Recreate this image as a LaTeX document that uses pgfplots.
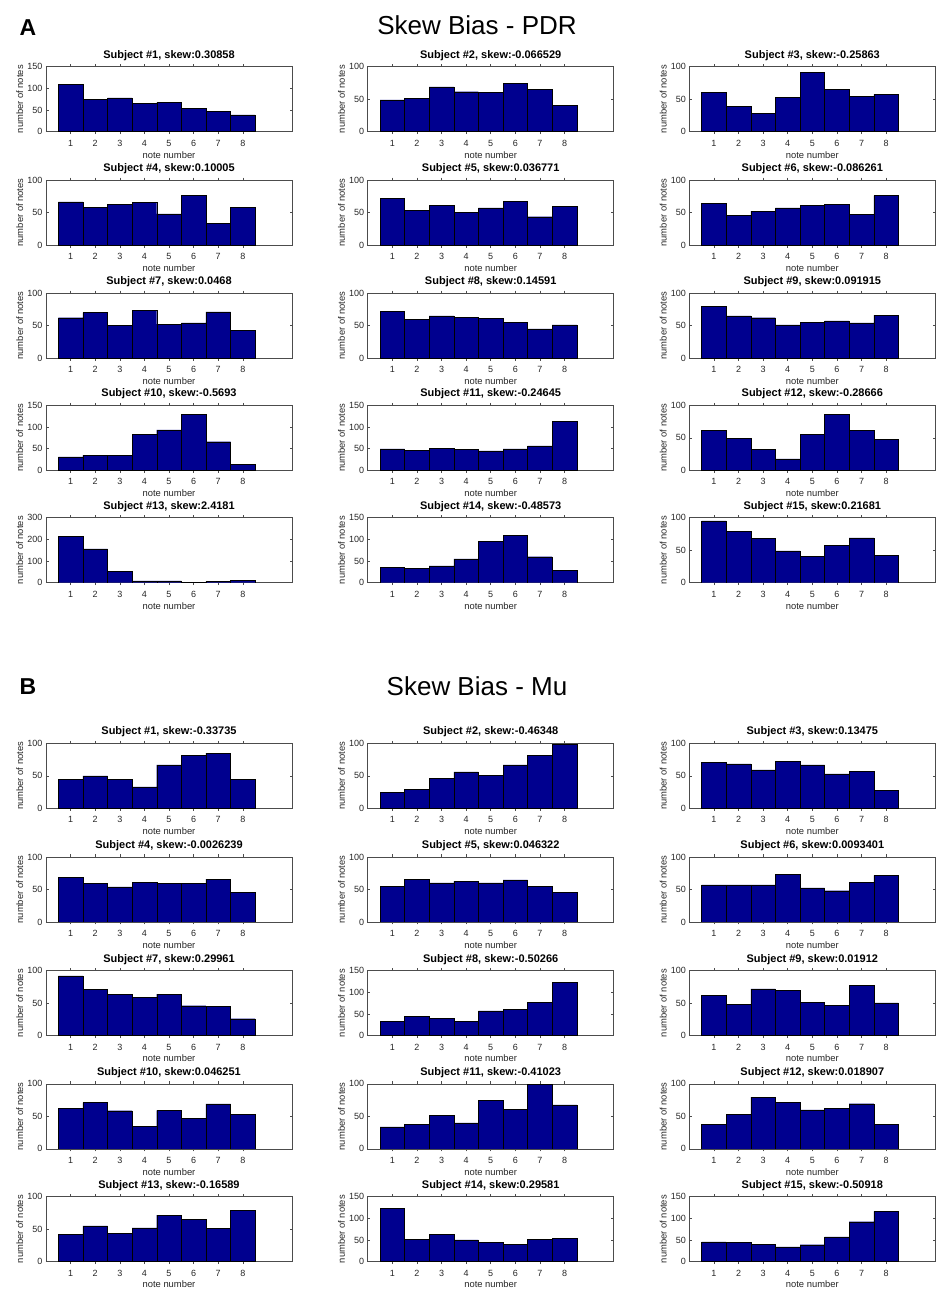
\documentclass[border=0pt]{standalone}
\usepackage{pgfplots}
\pgfplotsset{compat=1.18}
\usepackage{fontspec}
\setmainfont{Liberation Sans}
\definecolor{barblue}{RGB}{0,0,143}
\pgfplotsset{
  every axis title/.style={at={(axis description cs:0.5,1.13)}, anchor=base, font=\fontsize{11}{12}\selectfont\bfseries},
  panel/.style={
    scale only axis, width=246pt, height=65pt, anchor=north west,
    xmin=0, xmax=10, ymin=0,
    xtick={1,2,3,4,5,6,7,8},
    tick align=inside, major tick length=2.5pt,
    axis line style={draw=black!70, line width=0.5pt},
    every tick/.style={draw=black!70, line width=0.5pt},
    tick label style={font=\fontsize{9}{10}\selectfont, text=black!85},
    /pgf/number format/assume math mode=true,
    xticklabel style={anchor=base, yshift=-12pt},
    xlabel={note number},
    xlabel style={at={(axis description cs:0.5,-0.405)}, anchor=base, font=\fontsize{9.4}{10}\selectfont, text=black!85},
    ylabel={number of notes},
    ylabel style={at={(axis description cs:-0.0925,0.5)}, anchor=base, font=\fontsize{9.4}{10}\selectfont, text=black!85},
    ybar, bar width=1,
  }
}
\newcommand{\panel}[6]{%
  \begin{axis}[panel, at={(#1pt,-#2pt)}, ymax=#3, ytick={#4}, title={#5}]
    \addplot[fill=barblue, draw=black, line width=0.4pt] coordinates {#6};
  \end{axis}}
\begin{document}
\begin{tikzpicture}
\useasboundingbox (0,0) rectangle (950pt,-1300pt);
% ---------- A ----------
\node[anchor=base west, font=\fontsize{23}{24}\selectfont\bfseries] at (16pt,-36pt) {A};
\node[anchor=base, font=\fontsize{26}{28}\selectfont] at (477pt,-34.5pt) {Skew Bias - PDR};
\panel{46}{66.7}{150}{0,50,100,150}{Subject \#1, skew:0.30858}{(1,110) (2,74) (3,78) (4,65) (5,67) (6,54) (7,47) (8,39)}
\panel{367.7}{66.7}{100}{0,50,100}{Subject \#2, skew:-0.066529}{(1,49) (2,51) (3,69) (4,61.5) (5,60.5) (6,74) (7,65) (8,40.5)}
\panel{689.3}{66.7}{100}{0,50,100}{Subject \#3, skew:-0.25863}{(1,60) (2,39.5) (3,28.7) (4,53) (5,91) (6,65) (7,54) (8,57.5)}
\panel{46}{180}{100}{0,50,100}{Subject \#4, skew:0.10005}{(1,66.5) (2,58) (3,63) (4,66) (5,48) (6,76) (7,33.5) (8,58)}
\panel{367.7}{180}{100}{0,50,100}{Subject \#5, skew:0.036771}{(1,72) (2,53) (3,60.5) (4,50) (5,57) (6,67) (7,43.5) (8,59.5)}
\panel{689.3}{180}{100}{0,50,100}{Subject \#6, skew:-0.086261}{(1,64) (2,45.6) (3,52) (4,57) (5,60.5) (6,63) (7,47) (8,76)}
\panel{46}{293}{100}{0,50,100}{Subject \#7, skew:0.0468}{(1,62) (2,70) (3,50) (4,73) (5,52) (6,54) (7,71) (8,42.5)}
\panel{367.7}{293}{100}{0,50,100}{Subject \#8, skew:0.14591}{(1,72) (2,60) (3,65) (4,63) (5,61.5) (6,55) (7,45) (8,51)}
\panel{689.3}{293}{100}{0,50,100}{Subject \#9, skew:0.091915}{(1,79) (2,65) (3,62) (4,51) (5,55) (6,57) (7,54) (8,66)}
\panel{46}{405.3}{150}{0,50,100,150}{Subject \#10, skew:-0.5693}{(1,31) (2,35) (3,35) (4,83) (5,93.5) (6,129) (7,66) (8,13)}
\panel{367.7}{405.3}{150}{0,50,100,150}{Subject \#11, skew:-0.24645}{(1,49.5) (2,45.6) (3,50) (4,48) (5,45) (6,49.5) (7,56.5) (8,113.7)}
\panel{689.3}{405.3}{100}{0,50,100}{Subject \#12, skew:-0.28666}{(1,61) (2,49.5) (3,32.5) (4,17.5) (5,55.7) (6,86) (7,61) (8,47.5)}
\panel{46}{517.7}{300}{0,100,200,300}{Subject \#13, skew:2.4181}{(1,215) (2,156) (3,54) (4,8) (5,8) (6,3) (7,6) (8,12)}
\panel{367.7}{517.7}{150}{0,50,100,150}{Subject \#14, skew:-0.48573}{(1,35) (2,32.5) (3,38.7) (4,55) (5,96) (6,110) (7,60) (8,28)}
\panel{689.3}{517.7}{100}{0,50,100}{Subject \#15, skew:0.21681}{(1,95) (2,79) (3,68) (4,49) (5,41) (6,58) (7,69) (8,42)}
% ---------- B ----------
\node[anchor=base west, font=\fontsize{23}{24}\selectfont\bfseries] at (16pt,-694.5pt) {B};
\node[anchor=base, font=\fontsize{26}{28}\selectfont] at (477pt,-695pt) {Skew Bias - Mu};
\panel{46}{743.3}{100}{0,50,100}{Subject \#1, skew:-0.33735}{(1,44.7) (2,50) (3,45) (4,33) (5,67) (6,82) (7,85) (8,45)}
\panel{367.7}{743.3}{100}{0,50,100}{Subject \#2, skew:-0.46348}{(1,24.5) (2,29) (3,46) (4,56) (5,51) (6,66.7) (7,81) (8,98)}
\panel{689.3}{743.3}{100}{0,50,100}{Subject \#3, skew:0.13475}{(1,71) (2,68.5) (3,59) (4,72) (5,67) (6,53) (7,57) (8,27.7)}
\panel{46}{856.9}{100}{0,50,100}{Subject \#4, skew:-0.0026239}{(1,69) (2,59) (3,54) (4,61) (5,59.5) (6,59.5) (7,66) (8,46)}
\panel{367.7}{856.9}{100}{0,50,100}{Subject \#5, skew:0.046322}{(1,54.4) (2,66) (3,60) (4,62.7) (5,60) (6,64.6) (7,55) (8,45)}
\panel{689.3}{856.9}{100}{0,50,100}{Subject \#6, skew:0.0093401}{(1,57) (2,57) (3,57) (4,73) (5,52.5) (6,48) (7,61) (8,71.5)}
\panel{46}{970.6}{100}{0,50,100}{Subject \#7, skew:0.29961}{(1,92) (2,71) (3,64) (4,59) (5,64) (6,46) (7,45) (8,26)}
\panel{367.7}{970.6}{150}{0,50,100,150}{Subject \#8, skew:-0.50266}{(1,33.4) (2,44) (3,40) (4,33.4) (5,57.3) (6,61) (7,76.4) (8,123)}
\panel{689.3}{970.6}{100}{0,50,100}{Subject \#9, skew:0.01912}{(1,62.4) (2,47.8) (3,72) (4,70) (5,51) (6,46.5) (7,77.7) (8,50.3)}
\panel{46}{1083.8}{100}{0,50,100}{Subject \#10, skew:0.046251}{(1,62.4) (2,71) (3,58.6) (4,34.4) (5,59) (6,47) (7,69) (8,53.5)}
\panel{367.7}{1083.8}{100}{0,50,100}{Subject \#11, skew:-0.41023}{(1,33.8) (2,38) (3,51.6) (4,40) (5,74.5) (6,61) (7,99) (8,67.5)}
\panel{689.3}{1083.8}{100}{0,50,100}{Subject \#12, skew:0.018907}{(1,38) (2,53.5) (3,79.6) (4,72) (5,60) (6,62) (7,69.4) (8,38)}
\panel{46}{1196.6}{100}{0,50,100}{Subject \#13, skew:-0.16589}{(1,42.4) (2,55) (3,44) (4,52) (5,71.5) (6,65) (7,51) (8,78.5)}
\panel{367.7}{1196.6}{150}{0,50,100,150}{Subject \#14, skew:0.29581}{(1,123) (2,52) (3,62.7) (4,50) (5,43.7) (6,40) (7,52) (8,54)}
\panel{689.3}{1196.6}{150}{0,50,100,150}{Subject \#15, skew:-0.50918}{(1,45.6) (2,43.7) (3,40) (4,34) (5,39) (6,57) (7,92) (8,116)}
\end{tikzpicture}
\end{document}
